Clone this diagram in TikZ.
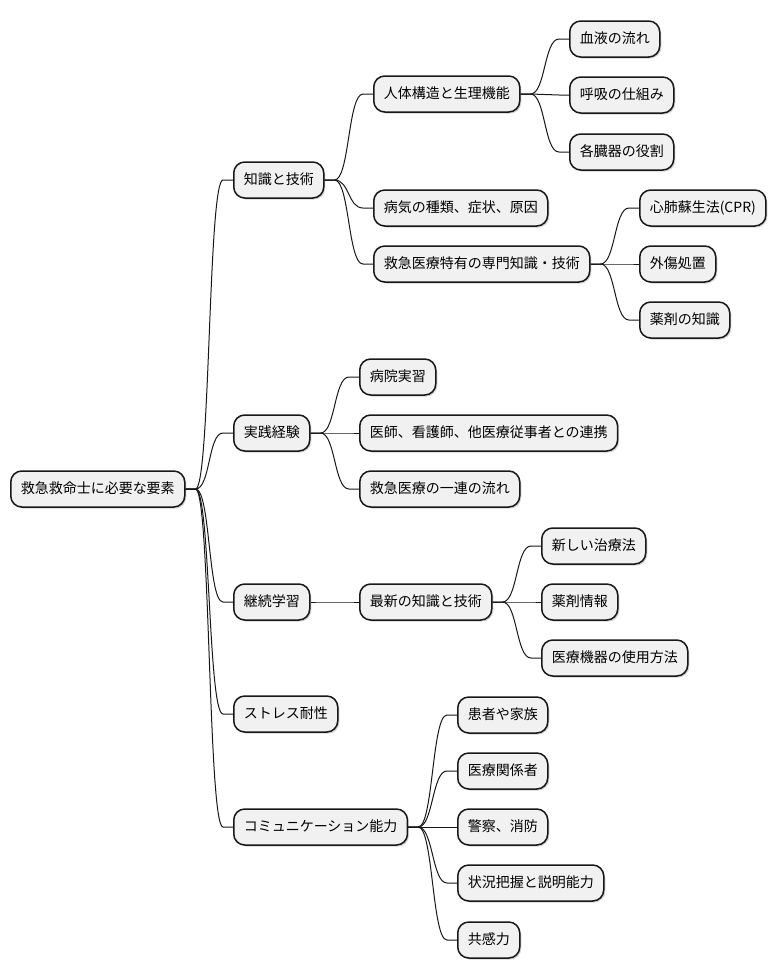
\documentclass[tikz,border=0pt]{standalone}
\usepackage{fontspec}
\setmainfont{Noto Sans CJK JP}
\usetikzlibrary{calc,shadows}
\definecolor{boxfill}{HTML}{F1F1F1}
\definecolor{boxline}{HTML}{181818}
\tikzset{
  mmbox/.style={draw=boxline, fill=boxfill, line width=1.5pt, rounded corners=11pt,
    minimum height=36pt, inner xsep=10pt, inner ysep=0pt, anchor=west,
    font=\fontsize{14pt}{16pt}\selectfont, text height=11pt, text depth=3pt,
    drop shadow={shadow xshift=1.5pt, shadow yshift=-1.5pt, opacity=0.18, fill=black}},
  mmline/.style={draw=boxline, line width=1pt}
}
\newcommand{\mmconn}[2]{%
  \draw[mmline] (#1.east) -- ++(10,0) .. controls +(15,0) and +(-15,0) .. ($(#2.west)+(-10,0)$) -- (#2.west);}
\begin{document}
\begin{tikzpicture}[x=1pt,y=-1pt]
\useasboundingbox (0,0) rectangle (779,978);
\node[mmbox] (root) at (10,489) {救急救命士に必要な要素};
\node[mmbox] (k) at (233,180) {知識と技術};
\node[mmbox] (j) at (233,433) {実践経験};
\node[mmbox] (g) at (233,602) {継続学習};
\node[mmbox] (s) at (233,714) {ストレス耐性};
\node[mmbox] (c) at (233,827) {コミュニケーション能力};
\node[mmbox] (k1) at (373,94) {人体構造と生理機能};
\node[mmbox] (k2) at (373,208) {病気の種類、症状、原因};
\node[mmbox] (k3) at (373,264) {救急医療特有の専門知識・技術};
\node[mmbox] (k11) at (569,39) {血液の流れ};
\node[mmbox] (k12) at (569,95) {呼吸の仕組み};
\node[mmbox] (k13) at (569,152) {各臓器の役割};
\node[mmbox] (k31) at (639,208) {心肺蘇生法(CPR)};
\node[mmbox] (k32) at (639,264) {外傷処置};
\node[mmbox] (k33) at (639,320) {薬剤の知識};
\node[mmbox] (j1) at (359,377) {病院実習};
\node[mmbox] (j2) at (359,433) {医師、看護師、他医療従事者との連携};
\node[mmbox] (j3) at (359,489) {救急医療の一連の流れ};
\node[mmbox] (g1) at (359,602) {最新の知識と技術};
\node[mmbox] (g11) at (541,546) {新しい治療法};
\node[mmbox] (g12) at (541,602) {薬剤情報};
\node[mmbox] (g13) at (541,658) {医療機器の使用方法};
\node[mmbox] (c1) at (457,715) {患者や家族};
\node[mmbox] (c2) at (457,771) {医療関係者};
\node[mmbox] (c3) at (457,827) {警察、消防};
\node[mmbox] (c4) at (457,883) {状況把握と説明能力};
\node[mmbox] (c5) at (457,940) {共感力};
\foreach \p/\c in {root/k,root/j,root/g,root/s,root/c,
  k/k1,k/k2,k/k3,k1/k11,k1/k12,k1/k13,k3/k31,k3/k32,k3/k33,
  j/j1,j/j2,j/j3,g/g1,g1/g11,g1/g12,g1/g13,
  c/c1,c/c2,c/c3,c/c4,c/c5}{\mmconn{\p}{\c}}
\end{tikzpicture}
\end{document}
